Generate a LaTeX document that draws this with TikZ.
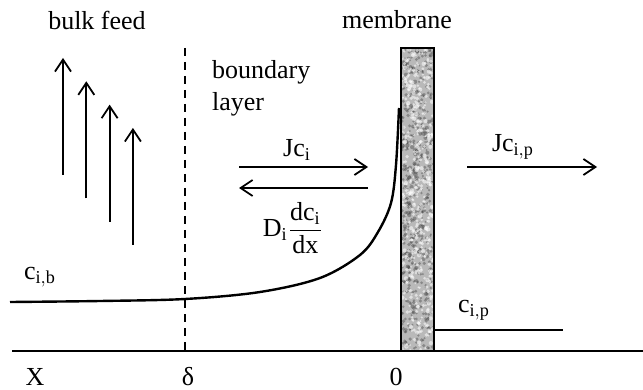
\documentclass[tikz,border=0pt]{standalone}
\usepackage{amsmath}
\usepackage{fontspec}
\setmainfont{Liberation Serif}
\usetikzlibrary{arrows.meta}

\begin{document}
\begin{tikzpicture}[x=0.5pt, y=-0.5pt, font=\fontsize{13}{16}\selectfont,
    flux/.style={-{Straight Barb[length=6pt,width=8pt]}, line width=0.9pt},
    axisline/.style={line width=1.2pt}]
    \useasboundingbox (0,0) rectangle (643,390);

    \coordinate (X0) at (12,351);
    \coordinate (X1) at (643,351);
    \coordinate (D0) at (185,48);
    \coordinate (D1) at (185,351);
    \coordinate (M0) at (401,48);
    \coordinate (M1) at (434,351);

    % membrane with speckled fill
    \fill[gray!55] (M0) rectangle (M1);
    \pgfmathsetseed{11}
    \foreach \k in {1,...,500}
        \fill[black!75, opacity=0.4] ({402+31*rnd},{49+301*rnd}) circle ({1+1.2*rnd});
    \foreach \k in {1,...,450}
        \fill[white, opacity=0.55] ({402+31*rnd},{49+301*rnd}) circle ({1+1.2*rnd});
    \draw[axisline] (M0) rectangle (M1);

    \draw[axisline] (X0) -- (X1);
    \draw[axisline, dash pattern=on 4pt off 3pt] (D0) -- (D1);

    % bulk feed arrows
    \foreach \i in {0,...,3}
        \draw[flux] ({63+23.3*\i},{175+23.3*\i}) -- ++(0,-117);

    % concentration profile
    \draw[axisline] plot[smooth, tension=0.55] coordinates {(10,302) (100,301) (185,299) (260,292) (320,278) (360,255) (378,232) (391,203) (396,165) (399,108)};
    \coordinate (P0) at (434,330);
    \coordinate (P1) at (563,330);
    \draw[line width=0.9pt] (P0) -- (P1);

    % fluxes
    \coordinate (jcA) at (239,167);
    \coordinate (jcB) at (368,167);
    \coordinate (dfA) at (368,188);
    \coordinate (dfB) at (239,188);
    \coordinate (jpA) at (467,167);
    \coordinate (jpB) at (597,167);
    \draw[flux] (jcA) -- (jcB);
    \draw[flux] (dfA) -- (dfB);
    \draw[flux] (jpA) -- (jpB);

    % labels
    \node (bulk) at (97,20) {bulk feed};
    \node (memb) at (397,20) {membrane};
    \node[align=left, anchor=west] (bl) at (205,88) {boundary\\layer};
    \node (jc) at (297,150) {$\mathrm{Jc}_\mathrm{i}$};
    \node (jp) at (513,147) {$\mathrm{Jc}_\mathrm{i,p}$};
    \node (df) at (293,228) {$\mathrm{D}_\mathrm{i}\dfrac{\mathrm{dc}_\mathrm{i}}{\mathrm{dx}}$};
    \node (cb) at (40,277) {$\mathrm{c}_\mathrm{i,b}$};
    \node (cp) at (474,310) {$\mathrm{c}_\mathrm{i,p}$};
    \node (xl) at (35,377) {X};
    \node (dl) at (188,377) {δ};
    \node (zl) at (396,377) {0};
\end{tikzpicture}
\end{document}
